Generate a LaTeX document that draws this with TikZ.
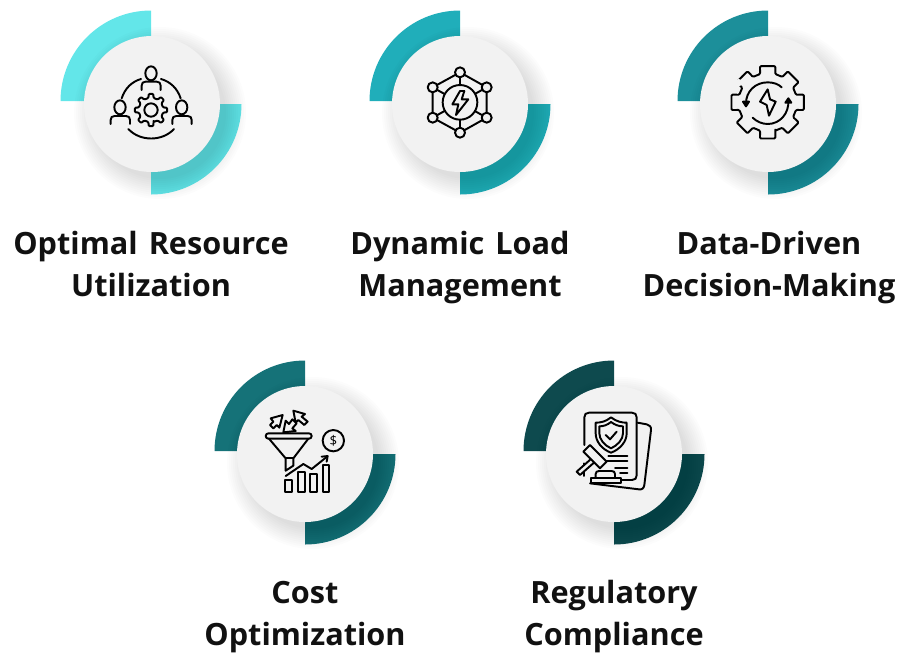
\documentclass[tikz,border=0pt]{standalone}
\usepackage{fontspec}
\setmainfont{Open Sans}
\definecolor{ca}{HTML}{63E6E9}
\definecolor{cb}{HTML}{20AEBA}
\definecolor{cc}{HTML}{1C8F9A}
\definecolor{cd}{HTML}{157278}
\definecolor{ce}{HTML}{0E4A4E}
\definecolor{discgray}{HTML}{F2F2F2}
\definecolor{ink}{HTML}{111111}
\tikzset{
  disc/.style={circle,fill=discgray,minimum size=102pt,inner sep=0pt},
  caption/.style={align=center,text=ink,font=\fontsize{23}{31.5}\selectfont\bfseries,inner sep=0pt},
  icon/.style={x=0.25pt,y=-0.25pt,line width=1.45pt,draw=black,line cap=round,line join=round},
  iconnode/.style={circle,draw=black,fill=discgray,line width=1.45pt,inner sep=0pt,minimum size=#1},
}
% arc centre x, disc centre x, centre y, colour, node name
\newcommand\badge[5]{%
  \fill[#4] (#1,#3-3) -- (#1-90.5,#3-3) arc[start angle=180,end angle=270,radius=90.5] -- cycle;
  \fill[#4] (#1,#3) -- (#1+90.5,#3) arc[start angle=0,end angle=90,radius=90.5] -- cycle;
  \foreach \rr in {66,68,...,86}{
    \fill[black,opacity=0.011] (#2+8,#3+9) circle[radius=\rr];
  }
  \node[disc] (#5) at (#2,#3) {};
}
% gear outline: centre, teeth, root r, tip r, half angle root, half angle tip
\newcommand\gearline[6]{%
  \begin{scope}[shift={#1}]
  \draw[rounded corners=0.8pt] (90-#5:#3)
   \foreach \t in {1,...,#2}{
     -- ({90+(\t-1)*360/#2-#6}:#4)
     -- ({90+(\t-1)*360/#2+#6}:#4)
     -- ({90+(\t-1)*360/#2+#5}:#3)
     -- ({90+\t*360/#2-#5}:#3)
   } -- cycle;
  \end{scope}
}
\begin{document}
\begin{tikzpicture}[x=0.75pt,y=-0.75pt]
\useasboundingbox (0,0) rectangle (905,654);
\badge{151}{152}{104}{ca}{da}
\badge{460}{460}{104}{cb}{db}
\badge{768}{768}{104}{cc}{dc}
\badge{305}{305}{454}{cd}{dd}
\badge{614}{614}{454}{ce}{de}

\node[caption] (la) at (151,267) {\strut Optimal\hspace{0.1em} Resource\\\strut Utilization};
\node[caption] (lb) at (460,267) {\strut Dynamic\hspace{0.1em} Load\\\strut Management};
\node[caption] (lc) at (769,267) {\strut Data-Driven\\\strut Decision-Making};
\node[caption] (ld) at (305,616) {\strut Cost\\\strut Optimization};
\node[caption] (le) at (614,616) {\strut Regulatory\\\strut Compliance};

% icon 1: people round a gear
\begin{scope}[shift={(100,50)},icon]
  \draw (153,70) ellipse[x radius=17,y radius=21];
  \draw (125,120) -- (125,107) .. controls (125,99) and (129,95) .. (137,95) -- (170,95) .. controls (178,95) and (182,99) .. (182,107) -- (182,120);
  \draw (60,172) ellipse[x radius=17,y radius=21];
  \draw (32,222) -- (32,210) .. controls (32,202) and (36,198) .. (44,198) -- (78,198) .. controls (86,198) and (90,202) .. (90,210) -- (90,222);
  \draw (245,172) ellipse[x radius=17,y radius=21];
  \draw (217,222) -- (217,210) .. controls (217,202) and (221,198) .. (229,198) -- (263,198) .. controls (271,198) and (275,202) .. (275,210) -- (275,222);
  \draw (65,145) .. controls (75,115) and (95,95) .. (123,87);
  \draw (183,87) .. controls (211,95) and (232,115) .. (242,145);
  \draw (85,237) .. controls (120,275) and (187,275) .. (222,237);
  \gearline{(153,180)}{8}{37}{49}{12}{8}
  \draw (153,180) circle[radius=20];
\end{scope}

% icon 2: network with a bolt
\begin{scope}[shift={(410,50)},icon]
  \draw (150,67) -- (230,112) -- (230,203) -- (150,248) -- (68,203) -- (68,112) -- cycle;
  \draw (150,67) -- (150,248) (68,112) -- (230,203) (230,112) -- (68,203);
  \fill[discgray,draw=black] (150,157) circle[radius=52];
  \foreach \p in {(150,67),(230,112),(230,203),(150,248),(68,203),(68,112)}{
    \fill[discgray,draw=black] \p circle[radius=15];
  }
  \draw (150,123) -- (127,163) -- (145,163) -- (138,195) -- (175,148) -- (155,148) -- (163,123) -- cycle;
\end{scope}

% icon 3: gear with cycle arrows
\begin{scope}[shift={(720,50)},icon]
  \gearline{(143,157)}{8}{88}{111}{15}{12}
  \fill[discgray,draw=none] (56,98) circle[radius=11];
  \fill[black,draw=none] (66,80) circle[radius=3];
  \draw (78,160) .. controls (78,125) and (105,97) .. (143,97) .. controls (160,97) and (175,102) .. (185,112);
  \draw (205,150) .. controls (208,190) and (180,222) .. (143,222) .. controls (127,222) and (110,215) .. (98,203);
  \draw[fill=black] (69,155) -- (87,155) -- (78,169) -- cycle;
  \draw[fill=black] (196,158) -- (214,158) -- (205,145) -- cycle;
  \draw (143,118) -- (150,148) -- (167,155) -- (147,197) -- (140,165) -- (120,155) -- cycle;
\end{scope}

% icon 4: funnel and growth chart
\begin{scope}[shift={(255,400)},icon]
  \draw[rounded corners=2pt] (32,100) rectangle (170,116);
  \draw (42,116) -- (92,175) -- (92,212) -- (115,197) -- (115,175) -- (160,116);
  \draw (92,175) -- (115,175);
  \draw (83,45) -- (47,55) -- (55,65) -- (45,75) -- (55,85) -- (65,75) -- (73,83) -- cycle;
  \draw (85,97) -- (92,62) -- (102,72) -- (112,58) -- (125,70) -- (112,85) -- (122,93) -- cycle;
  \draw (115,32) -- (150,42) -- (140,50) -- (158,65) -- (148,75) -- (130,60) -- (122,68) -- cycle;
  \node[iconnode=16pt] (dollar) at (235,122) {\fontsize{10}{10}\selectfont\$};
  \draw (90,240) rectangle (110,275);
  \draw (128,217) rectangle (150,275);
  \draw (165,222) rectangle (187,275);
  \draw (203,195) rectangle (223,275);
  \draw (92,228) -- (145,192) -- (170,207) -- (216,170);
  \draw (200,170) -- (218,168) -- (215,185);
\end{scope}

% icon 5: documents, shield and gavel
\begin{scope}[shift={(565,400)},icon]
  \draw (218,68) -- (245,73) .. controls (254,75) and (259,80) .. (258,90) -- (238,255) .. controls (236,265) and (232,269) .. (222,268) -- (75,250);
  \draw (58,135) -- (58,52) .. controls (58,43) and (63,38) .. (72,38) -- (201,38) .. controls (210,38) and (215,43) .. (215,52) -- (215,226) .. controls (215,235) and (210,240) .. (201,240) -- (172,240);
  \draw (58,190) -- (58,228);
  \draw (138,52) .. controls (155,65) and (170,68) .. (185,68) -- (185,100) .. controls (185,125) and (165,148) .. (138,158) .. controls (111,148) and (92,125) .. (92,100) -- (92,68) .. controls (107,68) and (122,65) .. (138,52) -- cycle;
  \draw (138,66) .. controls (150,75) and (162,79) .. (174,79) -- (174,100) .. controls (174,118) and (158,136) .. (138,145) .. controls (118,136) and (103,118) .. (103,100) -- (103,79) .. controls (115,79) and (127,75) .. (138,66) -- cycle;
  \draw (122,105) -- (135,118) -- (155,95);
  \draw (130,168) -- (187,168) (122,182) -- (187,182) (150,203) -- (187,203) (165,218) -- (187,218);
  \fill[discgray,draw=black] (35,215) -- (45,225) -- (98,178) -- (88,168) -- cycle;
  \fill[discgray,draw=black] (55,155) -- (75,135) -- (125,185) -- (105,205) -- cycle;
  \draw (92,233) -- (92,222) .. controls (92,216) and (96,213) .. (102,213) -- (140,213) .. controls (146,213) and (150,216) .. (150,222) -- (150,233);
  \fill[discgray,draw=black] (77,233) rectangle (167,250);
\end{scope}
\end{tikzpicture}
\end{document}
